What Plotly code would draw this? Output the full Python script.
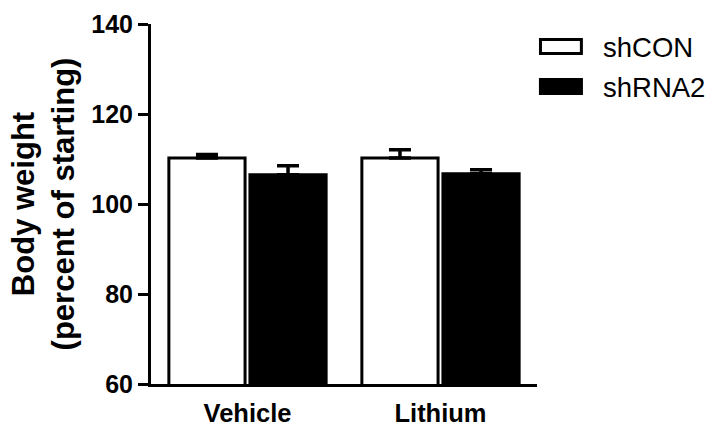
import plotly.graph_objects as go

categories = ["Vehicle", "Lithium"]
series_names = ["shCON", "shRNA2"]
shcon_values = [110.2, 110.2]
shcon_errors = [0.8, 1.85]
shrna2_values = [106.5, 106.7]
shrna2_errors = [2.0, 0.9]
y_ticks = [60, 80, 100, 120, 140]

FONT = "Liberation Sans, Arial, sans-serif"

fig = go.Figure()
fig.add_trace(go.Bar(
    name=series_names[0], x=categories, y=shcon_values,
    marker=dict(color="white", line=dict(color="black", width=3)),
    error_y=dict(type="data", array=shcon_errors, arrayminus=[0, 0], symmetric=False,
                 color="black", thickness=3.5, width=11),
    showlegend=False,
))
fig.add_trace(go.Bar(
    name=series_names[1], x=categories, y=shrna2_values,
    marker=dict(color="black", line=dict(color="black", width=3)),
    error_y=dict(type="data", array=shrna2_errors, arrayminus=[0, 0], symmetric=False,
                 color="black", thickness=3.5, width=11),
    showlegend=False,
))

# Legend drawn manually (large rectangular swatches)
fig.add_shape(type="rect", xref="paper", yref="paper", x0=1.009, x1=1.115, y0=0.918, y1=0.957,
              line=dict(color="black", width=3), fillcolor="white")
fig.add_shape(type="rect", xref="paper", yref="paper", x0=1.005, x1=1.119, y0=0.803, y1=0.850,
              line=dict(color="black", width=0), fillcolor="black")
for name, ypos in zip(series_names, [0.936, 0.825]):
    fig.add_annotation(text=name, xref="paper", yref="paper", x=1.166, y=ypos,
                       xanchor="left", yanchor="middle", showarrow=False,
                       font=dict(family=FONT, size=27.5, color="black"))

fig.update_layout(
    width=710, height=427,
    margin=dict(l=151, r=173, t=24, b=43, autoexpand=False),
    paper_bgcolor="white", plot_bgcolor="white",
    barmode="group", bargap=0.16, bargroupgap=0.06,
    font=dict(family=FONT, color="black"),
)
fig.update_xaxes(
    range=[-0.5, 1.5], showline=True, linecolor="black", linewidth=3,
    ticks="", showgrid=False, zeroline=False, automargin=False,
    tickfont=dict(family=FONT, size=25.5, color="black", weight="bold"),
    ticklabelstandoff=4,
)
fig.update_yaxes(
    range=[60, 140], tickvals=y_ticks, ticktext=[str(v) for v in y_ticks],
    showline=True, linecolor="black", linewidth=3, automargin=False,
    ticks="outside", ticklen=10, tickwidth=3, tickcolor="black",
    showgrid=False, zeroline=False,
    tickfont=dict(family=FONT, size=25, color="black", weight="bold"),
    title=dict(text="Body weight<br>(percent of starting)",
               font=dict(family=FONT, size=31, color="black", weight="bold"),
               standoff=8),
)

fig.write_html(
    "out.html",
    config={"displayModeBar": False},
    post_script="document.body.style.margin='0';document.body.style.overflow='hidden';",
)
